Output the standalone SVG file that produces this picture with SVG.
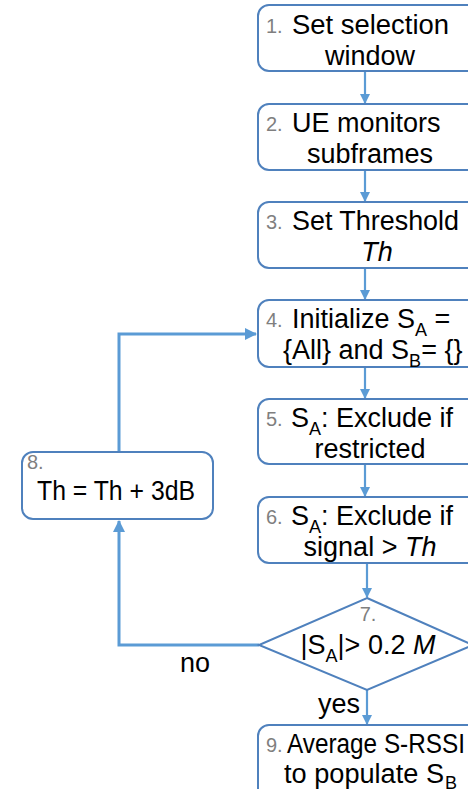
<svg xmlns="http://www.w3.org/2000/svg" width="468" height="789" viewBox="0 0 468 789">
<defs>
<style>
.box{fill:#fff;stroke:#4f81bd;stroke-width:2}
.t{font-family:"Liberation Sans",Arial,sans-serif;font-size:27px;fill:#000}
.n{font-family:"Liberation Sans",Arial,sans-serif;font-size:20px;fill:#7f7f7f}
.c{fill:none;stroke:#5b9bd5;stroke-width:2.2}
.loop{fill:none;stroke:#5b9bd5;stroke-width:3}
.sub{font-size:18px}
</style>
<marker id="ah" markerWidth="10" markerHeight="10" refX="9" refY="5" orient="auto" markerUnits="userSpaceOnUse">
<path d="M0,0 L10,5 L0,10 Z" fill="#5b9bd5"/>
</marker>
<marker id="ahv" markerWidth="12" markerHeight="12" refX="11" refY="6" orient="auto" markerUnits="userSpaceOnUse">
<path d="M0,0 L12,6 L0,12 Z" fill="#5b9bd5"/>
</marker>
</defs>
<g id="connectors">
<line class="c" x1="365" y1="71" x2="365" y2="103" marker-end="url(#ah)"/>
<line class="c" x1="365" y1="170" x2="365" y2="201" marker-end="url(#ah)"/>
<line class="c" x1="365" y1="268" x2="365" y2="299" marker-end="url(#ah)"/>
<line class="c" x1="365" y1="367" x2="365" y2="398" marker-end="url(#ah)"/>
<line class="c" x1="365" y1="464" x2="365" y2="496" marker-end="url(#ah)"/>
<line class="c" x1="367" y1="563" x2="367" y2="597" marker-end="url(#ah)"/>
<line class="c" x1="367" y1="690" x2="367" y2="724" marker-end="url(#ah)"/>
<polyline class="loop" points="259,645 119,645 119,521" marker-end="url(#ahv)"/>
<polyline class="loop" points="119,452 119,334 256,334" marker-end="url(#ahv)"/>
</g>
<g id="n1">
<rect class="box" x="258" y="5" width="222" height="66" rx="11"/>
<text class="n" x="266" y="33">1.</text>
<text class="t" x="292" y="34" textLength="157" lengthAdjust="spacingAndGlyphs">Set selection</text>
<text class="t" x="370" y="65" text-anchor="middle">window</text>
</g>
<g id="n2">
<rect class="box" x="258" y="104" width="222" height="66" rx="11"/>
<text class="n" x="266" y="131">2.</text>
<text class="t" x="292" y="132">UE monitors</text>
<text class="t" x="370" y="163" text-anchor="middle">subframes</text>
</g>
<g id="n3">
<rect class="box" x="258" y="202" width="222" height="66" rx="11"/>
<text class="n" x="266" y="229">3.</text>
<text class="t" x="292" y="230" textLength="167" lengthAdjust="spacingAndGlyphs">Set Threshold</text>
<text class="t" x="377" y="261" text-anchor="middle" font-style="italic">Th</text>
</g>
<g id="n4">
<rect class="box" x="258" y="300" width="222" height="67" rx="11"/>
<text class="n" x="266" y="327">4.</text>
<text class="t" x="292" y="328">Initialize S<tspan class="sub" dy="8">A</tspan><tspan dy="-8"> =</tspan></text>
<text class="t" x="283" y="359">{All} and S<tspan class="sub" dy="8">B</tspan><tspan dy="-8">= {}</tspan></text>
</g>
<g id="n5">
<rect class="box" x="258" y="399" width="222" height="65" rx="11"/>
<text class="n" x="266" y="426">5.</text>
<text class="t" x="291" y="427">S<tspan class="sub" dy="8">A</tspan><tspan dy="-8">: Exclude if</tspan></text>
<text class="t" x="370" y="458" text-anchor="middle">restricted</text>
</g>
<g id="n6">
<rect class="box" x="258" y="497" width="222" height="66" rx="11"/>
<text class="n" x="266" y="524">6.</text>
<text class="t" x="291" y="525">S<tspan class="sub" dy="8">A</tspan><tspan dy="-8">: Exclude if</tspan></text>
<text class="t" x="370" y="556" text-anchor="middle">signal &gt; <tspan font-style="italic">Th</tspan></text>
</g>
<g id="n7">
<polygon class="box" points="367,598 473,645 367,690 259,645"/>
<text class="n" x="368" y="621" text-anchor="middle">7.</text>
<text class="t" x="368" y="654" text-anchor="middle">|S<tspan class="sub" dy="8">A</tspan><tspan dy="-8">|&gt; 0.2 </tspan><tspan font-style="italic">M</tspan></text>
</g>
<g id="n8">
<rect class="box" x="22" y="452" width="191" height="67" rx="11"/>
<text class="n" x="27" y="469">8.</text>
<text class="t" x="37" y="500" textLength="158" lengthAdjust="spacingAndGlyphs">Th = Th + 3dB</text>
</g>
<g id="n9">
<rect class="box" x="258" y="725" width="222" height="80" rx="11"/>
<text class="n" x="266" y="752">9.</text>
<text class="t" x="287" y="753" textLength="178" lengthAdjust="spacingAndGlyphs">Average S-RSSI</text>
<text class="t" x="284" y="783" textLength="160" lengthAdjust="spacingAndGlyphs">to populate S</text>
<text class="t sub" x="445" y="789">B</text>
</g>
<g id="labels">
<text class="t" x="180" y="672">no</text>
<text class="t" x="318" y="713">yes</text>
</g>
</svg>
